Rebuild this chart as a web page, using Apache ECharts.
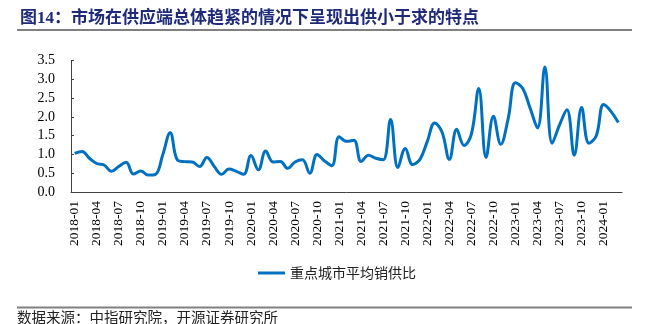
<!DOCTYPE html>
<html>
<head>
<meta charset="utf-8">
<script src="https://cdn.jsdelivr.net/npm/echarts@6/dist/echarts.min.js"></script>
<style>
  html, body { margin: 0; padding: 0; background: #fff; }
  #chart { width: 647px; height: 324px; }
</style>
</head>
<body>
<div id="chart"></div>
<script>
// Monthly categories, 2018-01 .. 2024-03
const months = [
  '2018-01','2018-02','2018-03','2018-04','2018-05','2018-06','2018-07','2018-08','2018-09','2018-10','2018-11','2018-12',
  '2019-01','2019-02','2019-03','2019-04','2019-05','2019-06','2019-07','2019-08','2019-09','2019-10','2019-11','2019-12',
  '2020-01','2020-02','2020-03','2020-04','2020-05','2020-06','2020-07','2020-08','2020-09','2020-10','2020-11','2020-12',
  '2021-01','2021-02','2021-03','2021-04','2021-05','2021-06','2021-07','2021-08','2021-09','2021-10','2021-11','2021-12',
  '2022-01','2022-02','2022-03','2022-04','2022-05','2022-06','2022-07','2022-08','2022-09','2022-10','2022-11','2022-12',
  '2023-01','2023-02','2023-03','2023-04','2023-05','2023-06','2023-07','2023-08','2023-09','2023-10','2023-11','2023-12',
  '2024-01','2024-02','2024-03'
];

// 重点城市平均销供比
const salesSupplyRatio = [
  1.03, 1.08, 0.90, 0.76, 0.72, 0.55, 0.68, 0.79, 0.48, 0.56, 0.45, 0.47,
  1.00, 1.58, 0.85, 0.81, 0.80, 0.68, 0.92, 0.68, 0.47, 0.61, 0.55, 0.47,
  0.97, 0.59, 1.09, 0.80, 0.81, 0.63, 0.80, 0.86, 0.50, 1.00, 0.83, 0.70,
  1.47, 1.35, 1.38, 0.81, 0.98, 0.90, 0.86, 1.93, 0.65, 1.16, 0.73, 0.87,
  1.35, 1.84, 1.60, 0.87, 1.67, 1.24, 1.54, 2.76, 0.92, 2.02, 1.27, 1.95,
  2.91, 2.76, 2.23, 1.71, 3.33, 1.30, 1.79, 2.19, 0.98, 2.25, 1.30, 1.50,
  2.33, 2.15, 1.85
];

const seriesName = '重点城市平均销供比';
const titleText = '图14：市场在供应端总体趋紧的情况下呈现出供小于求的特点';
const sourceText = '数据来源：中指研究院，开源证券研究所';

// value axis range
const yMin = 0, yMax = 3.5, yStep = 0.5;

const serif = "'Liberation Serif', 'Times New Roman', serif";
const cjk = "'Liberation Serif', 'Noto Sans CJK SC', sans-serif";
const axisColor = '#404040';

const chart = echarts.init(document.getElementById('chart'), null, { renderer: 'canvas' });

chart.setOption({
  animation: false,
  backgroundColor: '#ffffff',
  title: {
    text: titleText,
    left: 15,
    top: 5,
    textStyle: {
      color: '#1F2A78',
      fontFamily: cjk,
      fontWeight: 'bold',
      fontSize: 17
    }
  },
  graphic: [
    { type: 'line', shape: { x1: 17, y1: 30, x2: 632, y2: 30 },
      style: { stroke: '#808080', lineWidth: 2 } },
    { type: 'line', shape: { x1: 17, y1: 307.5, x2: 632, y2: 307.5 },
      style: { stroke: '#808080', lineWidth: 2 } },
    { type: 'text', left: 17, top: 310,
      style: { text: sourceText, fill: '#222', font: "14.5px 'Noto Sans CJK SC', sans-serif" } }
  ],
  legend: {
    data: [seriesName],
    left: 253,
    top: 261,
    itemWidth: 27,
    itemHeight: 3,
    icon: 'rect',
    textStyle: {
      fontFamily: "'Noto Sans CJK SC', sans-serif",
      fontSize: 14,
      color: '#222'
    }
  },
  grid: {
    left: 71,
    right: 25,
    top: 60.7,
    bottom: 132,
    containLabel: false
  },
  xAxis: {
    type: 'category',
    data: months,
    boundaryGap: true,
    axisLine: { lineStyle: { color: axisColor, width: 1 } },
    axisTick: { inside: true, length: 5, interval: 2, lineStyle: { color: axisColor } },
    axisLabel: {
      interval: 2,
      rotate: 90,
      margin: 9,
      color: '#000',
      fontFamily: serif,
      fontSize: 13.5
    },
    splitLine: { show: false }
  },
  yAxis: {
    type: 'value',
    min: yMin,
    max: yMax,
    interval: yStep,
    axisLine: { show: true, lineStyle: { color: axisColor, width: 1 } },
    axisTick: { show: true, inside: true, length: 3, lineStyle: { color: axisColor } },
    axisLabel: {
      margin: 16,
      color: '#000',
      fontFamily: serif,
      fontSize: 14,
      formatter: v => v.toFixed(1)
    },
    splitLine: { show: false }
  },
  series: [{
    name: seriesName,
    type: 'line',
    data: salesSupplyRatio,
    smooth: 0.4,
    showSymbol: false,
    symbol: 'none',
    lineStyle: { color: '#0070C0', width: 3 },
    itemStyle: { color: '#0070C0' }
  }]
});
</script>
</body>
</html>
